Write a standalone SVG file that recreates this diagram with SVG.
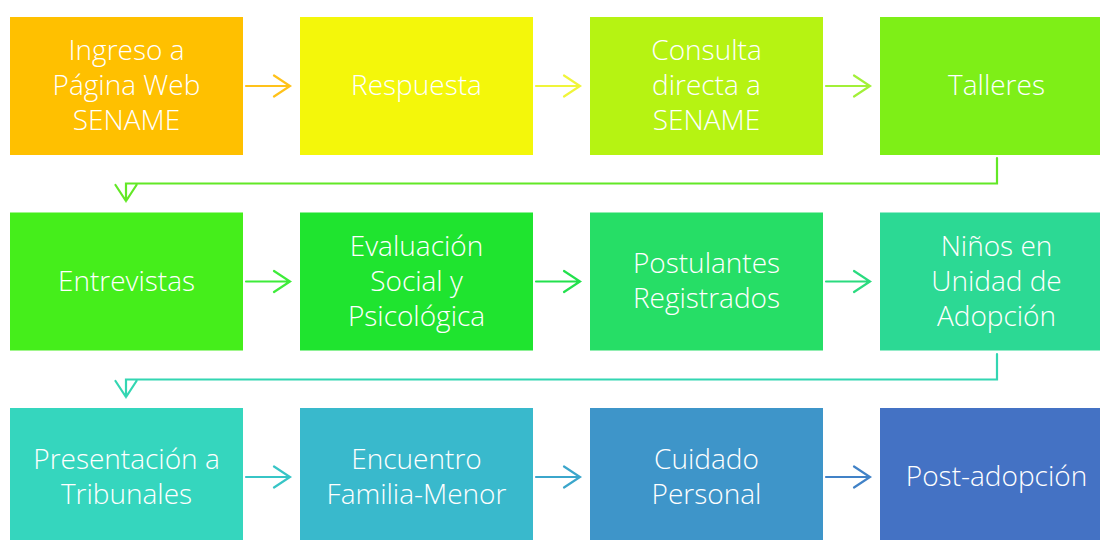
<svg xmlns="http://www.w3.org/2000/svg" width="1100" height="540" viewBox="0 0 1100 540">
<defs>
<style>
.box{stroke:none}
.t{font-family:"Open Sans","Liberation Sans",sans-serif;font-weight:300;font-size:28px;fill:#ffffff;text-anchor:middle}
.c{fill:none;stroke-width:2.2;stroke-linecap:round;stroke-linejoin:miter}
</style>
</defs>
<rect width="1100" height="540" fill="#ffffff"/>
<g id="n1"><rect class="box" x="10" y="17" width="233" height="138" fill="#FFC000"/><text class="t" x="126.5" y="60">Ingreso a</text><text class="t" x="126.5" y="95">Página Web</text><text class="t" x="126.5" y="130">SENAME</text></g>
<g id="n2"><rect class="box" x="300" y="17" width="233" height="138" fill="#F4F70A"/><text class="t" x="416.5" y="95">Respuesta</text></g>
<g id="n3"><rect class="box" x="590" y="17" width="233" height="138" fill="#B6F312"/><text class="t" x="706.5" y="60">Consulta</text><text class="t" x="706.5" y="95">directa a</text><text class="t" x="706.5" y="130">SENAME</text></g>
<g id="n4"><rect class="box" x="880" y="17" width="233" height="138" fill="#7EEF17"/><text class="t" x="996.5" y="95">Talleres</text></g>
<g id="n5"><rect class="box" x="10" y="212.5" width="233" height="138" fill="#45EE1B"/><text class="t" x="126.5" y="290.5">Entrevistas</text></g>
<g id="n6"><rect class="box" x="300" y="212.5" width="233" height="138" fill="#1FE42F"/><text class="t" x="416.5" y="255.5">Evaluación</text><text class="t" x="416.5" y="290.5">Social y</text><text class="t" x="416.5" y="325.5">Psicológica</text></g>
<g id="n7"><rect class="box" x="590" y="212.5" width="233" height="138" fill="#26DE66"/><text class="t" x="706.5" y="273">Postulantes</text><text class="t" x="706.5" y="308">Registrados</text></g>
<g id="n8"><rect class="box" x="880" y="212.5" width="233" height="138" fill="#2CD994"/><text class="t" x="996.5" y="255.5">Niños en</text><text class="t" x="996.5" y="290.5">Unidad de</text><text class="t" x="996.5" y="325.5">Adopción</text></g>
<g id="n9"><rect class="box" x="10" y="408" width="233" height="138" fill="#35D6BE"/><text class="t" x="126.5" y="468.5">Presentación a</text><text class="t" x="126.5" y="503.5">Tribunales</text></g>
<g id="n10"><rect class="box" x="300" y="408" width="233" height="138" fill="#39B9CC"/><text class="t" x="416.5" y="468.5">Encuentro</text><text class="t" x="416.5" y="503.5">Familia-Menor</text></g>
<g id="n11"><rect class="box" x="590" y="408" width="233" height="138" fill="#3E95C9"/><text class="t" x="706.5" y="468.5">Cuidado</text><text class="t" x="706.5" y="503.5">Personal</text></g>
<g id="n12"><rect class="box" x="880" y="408" width="233" height="138" fill="#4472C4"/><text class="t" x="996.5" y="486">Post-adopción</text></g>
<g id="connectors">
<g stroke="#FFC21A" class="c"><path class="c" d="M246 86H290M274 75.5L290 86L274 96.5"/></g>
<g stroke="#F0F53A" class="c"><path class="c" d="M536 86H580M564 75.5L580 86L564 96.5"/></g>
<g stroke="#A2F038" class="c"><path class="c" d="M826 86H870M854 75.5L870 86L854 96.5"/></g>
<g stroke="#62E826" class="c"><path class="c" d="M997 158V183.5H126V201M115.5 185L126 201L136.5 185"/></g>
<g stroke="#3EEC3A" class="c"><path class="c" d="M246 281.5H290M274 271L290 281.5L274 292"/></g>
<g stroke="#22E14D" class="c"><path class="c" d="M536 281.5H580M564 271L580 281.5L564 292"/></g>
<g stroke="#2ADB7F" class="c"><path class="c" d="M826 281.5H870M854 271L870 281.5L854 292"/></g>
<g stroke="#33D6B2" class="c"><path class="c" d="M997 354V379.5H126V397M115.5 381L126 397L136.5 381"/></g>
<g stroke="#37C5C6" class="c"><path class="c" d="M246 477H290M274 466.5L290 477L274 487.5"/></g>
<g stroke="#3BA6CB" class="c"><path class="c" d="M536 477H580M564 466.5L580 477L564 487.5"/></g>
<g stroke="#4182C7" class="c"><path class="c" d="M826 477H870M854 466.5L870 477L854 487.5"/></g>
</g>
</svg>
